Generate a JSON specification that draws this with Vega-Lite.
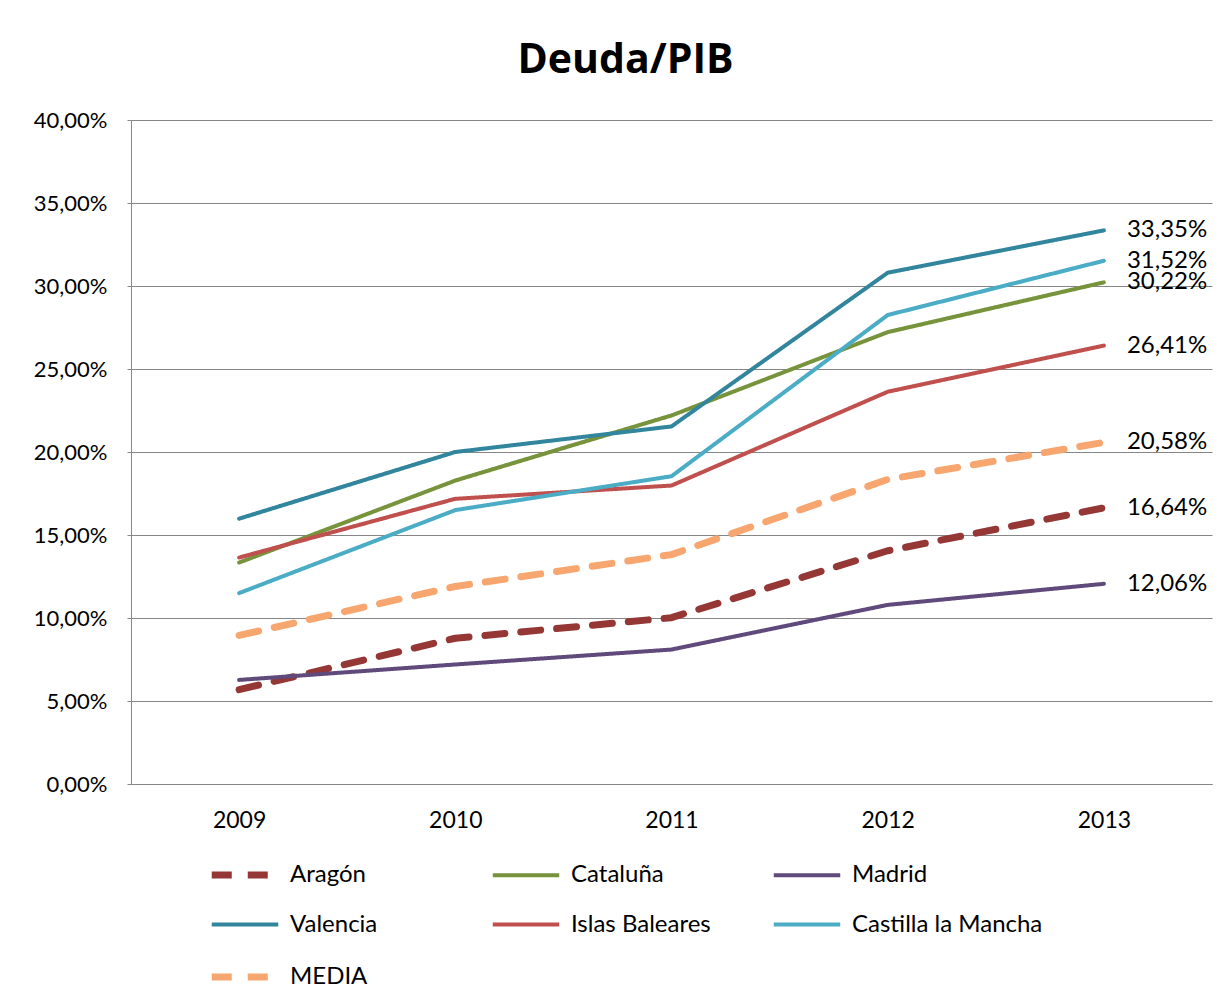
{
  "$schema": "https://vega.github.io/schema/vega-lite/v6.json",
  "autosize": {"type": "none"},
  "width": 1081,
  "height": 664,
  "padding": {"left": 131, "top": 120, "right": 17, "bottom": 218},
  "background": "white",
  "config": {
    "locale": {"number": {"decimal": ",", "thousands": ".", "grouping": [3], "currency": ["", " €"]}},
    "font": "Lato",
    "view": {"stroke": null}
  },
  "title": {"text": "Deuda/PIB", "fontSize": 41, "fontWeight": "bold", "font": "Open Sans", "color": "#000000", "offset": 27, "anchor": "middle", "dx": -46},
  "data": {"values": [
    {"year": "2009", "region": "Aragón", "value": 0.0568},
    {"year": "2010", "region": "Aragón", "value": 0.0878},
    {"year": "2011", "region": "Aragón", "value": 0.1002},
    {"year": "2012", "region": "Aragón", "value": 0.1405},
    {"year": "2013", "region": "Aragón", "value": 0.1664},
    {"year": "2009", "region": "Cataluña", "value": 0.1334},
    {"year": "2010", "region": "Cataluña", "value": 0.1828},
    {"year": "2011", "region": "Cataluña", "value": 0.222},
    {"year": "2012", "region": "Cataluña", "value": 0.2722},
    {"year": "2013", "region": "Cataluña", "value": 0.3022},
    {"year": "2009", "region": "Madrid", "value": 0.0627},
    {"year": "2010", "region": "Madrid", "value": 0.072},
    {"year": "2011", "region": "Madrid", "value": 0.081},
    {"year": "2012", "region": "Madrid", "value": 0.1079},
    {"year": "2013", "region": "Madrid", "value": 0.1206},
    {"year": "2009", "region": "Valencia", "value": 0.1598},
    {"year": "2010", "region": "Valencia", "value": 0.2},
    {"year": "2011", "region": "Valencia", "value": 0.2154},
    {"year": "2012", "region": "Valencia", "value": 0.308},
    {"year": "2013", "region": "Valencia", "value": 0.3335},
    {"year": "2009", "region": "Islas Baleares", "value": 0.1364},
    {"year": "2010", "region": "Islas Baleares", "value": 0.1718},
    {"year": "2011", "region": "Islas Baleares", "value": 0.1798},
    {"year": "2012", "region": "Islas Baleares", "value": 0.2363},
    {"year": "2013", "region": "Islas Baleares", "value": 0.2641},
    {"year": "2009", "region": "Castilla la Mancha", "value": 0.115},
    {"year": "2010", "region": "Castilla la Mancha", "value": 0.165},
    {"year": "2011", "region": "Castilla la Mancha", "value": 0.1854},
    {"year": "2012", "region": "Castilla la Mancha", "value": 0.2825},
    {"year": "2013", "region": "Castilla la Mancha", "value": 0.3152},
    {"year": "2009", "region": "MEDIA", "value": 0.0895},
    {"year": "2010", "region": "MEDIA", "value": 0.119},
    {"year": "2011", "region": "MEDIA", "value": 0.1382},
    {"year": "2012", "region": "MEDIA", "value": 0.1835},
    {"year": "2013", "region": "MEDIA", "value": 0.2058}
  ]},
  "encoding": {
    "x": {
      "field": "year", "type": "ordinal",
      "scale": {"type": "point", "padding": 0.5},
      "axis": {"title": null, "labelAngle": 0, "labelFontSize": 23, "labelColor": "#000000", "labelPadding": 25, "ticks": false, "domainColor": "#868686", "grid": false}
    },
    "y": {
      "field": "value", "type": "quantitative",
      "scale": {"domain": [0, 0.4], "nice": false},
      "axis": {"title": null, "format": ".2%", "values": [0, 0.05, 0.1, 0.15, 0.2, 0.25, 0.3, 0.35, 0.4], "labelFontSize": 22, "labelColor": "#000000", "labelPadding": 20, "tickSize": 4, "tickColor": "#868686", "domainColor": "#868686", "gridColor": "#868686", "gridWidth": 1}
    }
  },
  "layer": [
    {
      "mark": {"type": "line", "strokeCap": "round", "strokeJoin": "round"},
      "encoding": {
        "color": {
          "field": "region", "type": "nominal",
          "scale": {
            "domain": ["Aragón", "Cataluña", "Madrid", "Valencia", "Islas Baleares", "Castilla la Mancha", "MEDIA"],
            "range": ["#953735", "#77933C", "#604A7B", "#31859C", "#C0504D", "#4BACC6", "#F8A66F"]
          },
          "legend": {
            "title": null, "orient": "none", "legendX": 77, "legendY": 718, "direction": "horizontal", "columns": 3,
            "gridAlign": "all", "columnPadding": 3, "rowPadding": 0, "symbolType": "stroke", "symbolSize": 4420,
            "symbolStrokeWidth": 5, "labelFontSize": 24, "labelColor": "#000000", "labelOffset": 8, "labelLimit": 300
          }
        },
        "strokeDash": {
          "field": "region", "type": "nominal",
          "scale": {
            "domain": ["Aragón", "Cataluña", "Madrid", "Valencia", "Islas Baleares", "Castilla la Mancha", "MEDIA"],
            "range": [[20, 16], [1, 0], [1, 0], [1, 0], [1, 0], [1, 0], [20, 16]]
          },
          "legend": null
        },
        "strokeWidth": {
          "field": "region", "type": "nominal",
          "scale": {
            "type": "ordinal",
            "domain": ["Aragón", "Cataluña", "Madrid", "Valencia", "Islas Baleares", "Castilla la Mancha", "MEDIA"],
            "range": [7, 4, 4, 4, 4, 4, 7]
          },
          "legend": null
        }
      }
    },
    {
      "transform": [{"filter": "datum.year == '2013'"}],
      "mark": {"type": "text", "align": "left", "baseline": "middle", "dx": 23, "fontSize": 24, "color": "#000000"},
      "encoding": {
        "text": {"field": "value", "type": "quantitative", "format": ".2%"}
      }
    }
  ]
}
